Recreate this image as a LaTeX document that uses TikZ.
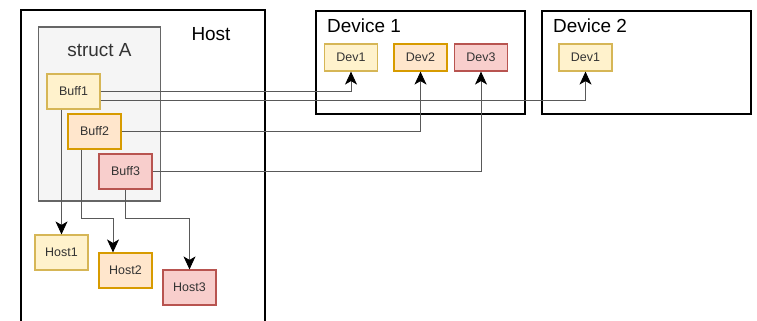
\documentclass[tikz,border=0pt]{standalone}
\usepackage{fontspec}
\setmainfont{Liberation Sans}
\usetikzlibrary{arrows.meta}

\definecolor{yfill}{HTML}{FFF2CC}
\definecolor{ydraw}{HTML}{D6B656}
\definecolor{ofill}{HTML}{FFE6CC}
\definecolor{odraw}{HTML}{D79B00}
\definecolor{rfill}{HTML}{F8CECC}
\definecolor{rdraw}{HTML}{B85450}
\definecolor{gfill}{HTML}{F5F5F5}
\definecolor{gdraw}{HTML}{666666}

\newcommand{\bigfont}{\fontsize{19}{22}\selectfont}
\newcommand{\smallfont}{\fontsize{12.5}{15}\selectfont}

\begin{document}
\begin{tikzpicture}[x=1bp, y=-1bp, >={Stealth[length=13pt 0, width=12pt 0, inset=3.5pt 0, color=black, fill=black]}]

\tikzstyle{frame}=[rectangle, draw, line width=1.3bp, inner sep=0pt]
\tikzstyle{cell}=[rectangle, draw, line width=1.2bp, inner sep=0pt, minimum width=53bp, minimum height=35bp, font=\smallfont, text=black!80]
\tikzstyle{devcell}=[cell, minimum height=27bp]
\tikzstyle{yelbox}=[fill=yfill, draw=ydraw]
\tikzstyle{orabox}=[fill=ofill, draw=odraw]
\tikzstyle{redbox}=[fill=rfill, draw=rdraw]
\tikzstyle{title}=[font=\bigfont, inner sep=0pt]
\tikzstyle{link}=[draw=black!65, line width=0.9bp, ->]

\clip (0,0) rectangle (757,320);
\fill[white] (0,0) rectangle (757,320);

\node (host) [frame, minimum width=244bp, minimum height=330bp] at (143,175) {};
\node (hostlbl) [title] at (211,34) {Host};

\node (dev1) [frame, minimum width=209bp, minimum height=103bp] at (420.5,62.5) {};
\node (dev1lbl) [title, anchor=west] at (327,26) {Device 1};
\node (dev2) [frame, minimum width=209bp, minimum height=103bp] at (646.5,62.5) {};
\node (dev2lbl) [title, anchor=west] at (553,26) {Device 2};

\node (structA) [frame, fill=gfill, draw=gdraw, line width=1.2bp, minimum width=122bp, minimum height=174bp] at (99.5,114) {};
\node (structlbl) [title, text=black!80] at (99.5,50) {struct A};

\node (b1) [cell, yelbox] at (73.5,91.5)  {Buff1};
\node (b2) [cell, orabox] at (94.5,131.5) {Buff2};
\node (b3) [cell, redbox] at (125.5,171.5) {Buff3};

\node (h1) [cell, yelbox] at (61.5,252.5)  {Host1};
\node (h2) [cell, orabox] at (125.5,270.5) {Host2};
\node (h3) [cell, redbox] at (189.5,287.5) {Host3};

\node (d11) [devcell, yelbox] at (351,57.5) {Dev1};
\node (d12) [devcell, orabox] at (420.5,57.5) {Dev2};
\node (d13) [devcell, redbox] at (481,57.5) {Dev3};
\node (d21) [devcell, yelbox] at (585.5,57.5) {Dev1};

\draw [link] (b1.east) -| (d11.south);
\draw [link] ([yshift=-9bp]b1.east) -| (d21.south);
\draw [link] (b2.east) -| (d12.south);
\draw [link] (b3.east) -| (d13.south);

\draw [link] (h1.north |- b1.south) -- (h1.north);
\draw [link] ([xshift=-13.5bp]b2.south) -- ++(0,69) -| ([xshift=-12.5bp]h2.north);
\draw [link] (b3.south) -- ++(0,29) -| (h3.north);

\end{tikzpicture}
\end{document}
